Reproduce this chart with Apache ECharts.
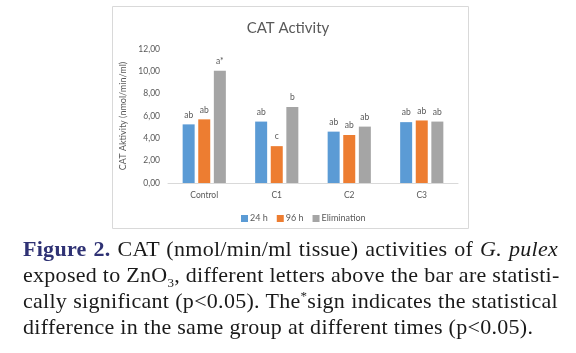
<!DOCTYPE html>
<html>
<head>
<meta charset="utf-8">
<script src="https://cdn.jsdelivr.net/npm/echarts@6/dist/echarts.min.js"></script>
<style>
  html, body { margin: 0; padding: 0; background: #fff; }
  #wrap { position: relative; width: 576px; height: 353px; overflow: hidden; }
  #chart { position: absolute; left: 0; top: 0; width: 576px; height: 353px; }
  #caption {
    position: absolute; left: 23px; top: 236px; width: 535px;
    font-family: "Liberation Serif", serif; font-size: 22px; line-height: 26px; color: #1a1a1a;
    letter-spacing: 0.28px;
  }
  #caption .ln { white-space: nowrap; text-align: justify; text-align-last: justify; }
  #caption .last { text-align: left; text-align-last: left; }
  #caption b { color: #2f3274; }
  #caption sub, #caption sup { font-size: 13px; line-height: 0; }
</style>
</head>
<body>
<div id="wrap">
  <div id="chart"></div>
  <div id="caption">
    <div class="ln"><b>Figure 2.</b> CAT (nmol/min/ml tissue) activities of <i>G. pulex</i></div>
    <div class="ln">exposed to ZnO<sub>3</sub>, different letters above the bar are statisti-</div>
    <div class="ln">cally significant (p&lt;0.05). The<sup>*</sup>sign indicates the statistical</div>
    <div class="ln last">difference in the same group at different times (p&lt;0.05).</div>
  </div>
</div>
<script>
// chart data
const categories = ['Control', 'C1', 'C2', 'C3'];
const seriesNames = ['24 h', '96 h', 'Elimination'];
const values24h = [5.25, 5.5, 4.6, 5.45];
const values96h = [5.7, 3.3, 4.3, 5.6];
const valuesElim = [10.05, 6.8, 5.05, 5.5];
const letters24h = ['ab', 'ab', 'ab', 'ab'];
const letters96h = ['ab', 'c', 'ab', 'ab'];
const lettersElim = ['a*', 'b', 'ab', 'ab'];
const colors = ['#5B9BD5', '#ED7D31', '#A5A5A5'];

const font = 'Lato';
const textGray = '#595959';

function makeSeries(name, values, letters, color) {
    return {
        name: name,
        type: 'bar',
        barWidth: 12,
        barGap: '30%',
        itemStyle: { color: color },
        label: {
            show: true,
            position: 'top',
            distance: 5,
            fontSize: 8.5,
            fontFamily: font,
            color: textGray,
            formatter: function (p) { return letters[p.dataIndex]; }
        },
        data: values
    };
}

const myChart = echarts.init(document.getElementById('chart'));

const option = {
    animation: false,
    color: colors,
    title: {
        text: 'CAT Activity',
        left: 'center',
        top: 16,
        textStyle: { fontSize: 15, fontWeight: 'normal', color: textGray, fontFamily: font }
    },
    legend: {
        data: seriesNames,
        left: 236,
        top: 209,
        icon: 'rect',
        itemWidth: 7,
        itemHeight: 7,
        itemGap: 9,
        textStyle: { fontSize: 9, color: textGray, fontFamily: font, padding: [0, 0, 0, -3] }
    },
    grid: { left: 168, right: 118, top: 49, bottom: 170 },
    xAxis: {
        type: 'category',
        data: categories,
        axisTick: { show: false },
        axisLine: { lineStyle: { color: '#D9D9D9' } },
        axisLabel: { fontSize: 8.5, color: textGray, fontFamily: font, margin: 8 }
    },
    yAxis: {
        type: 'value',
        min: 0,
        max: 12,
        interval: 2,
        name: 'CAT Aktivity (nmol/min/ml)',
        nameLocation: 'middle',
        nameGap: 37,
        nameTextStyle: { fontSize: 9, color: textGray, fontFamily: font },
        splitLine: { show: false },
        axisLine: { show: false },
        axisTick: { show: false },
        axisLabel: {
            fontSize: 8.5, color: textGray, fontFamily: font, margin: 8,
            formatter: function (v) { return v.toFixed(2).replace('.', ','); }
        }
    },
    graphic: [{
        type: 'rect',
        shape: { x: 112.5, y: 6.5, width: 356, height: 222 },
        style: { fill: 'none', stroke: '#D9D9D9', lineWidth: 1 },
        silent: true
    }],
    series: [
        makeSeries(seriesNames[0], values24h, letters24h, colors[0]),
        makeSeries(seriesNames[1], values96h, letters96h, colors[1]),
        makeSeries(seriesNames[2], valuesElim, lettersElim, colors[2])
    ]
};
myChart.setOption(option);
</script>
</body>
</html>
